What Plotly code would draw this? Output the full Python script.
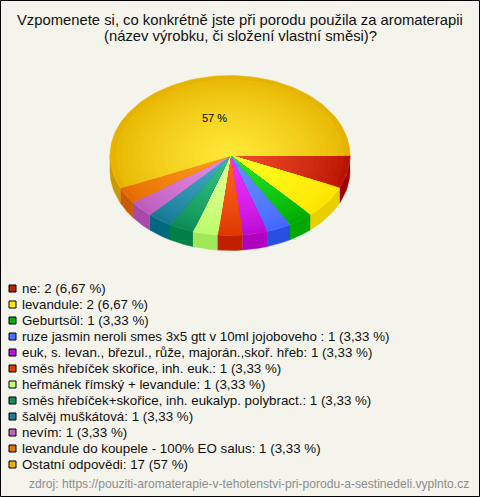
import math
import plotly.graph_objects as go

title_lines = ["Vzpomenete si, co konkrétně jste při porodu použila za aromaterapii",
               "(název výrobku, či složení vlastní směsi)?"]
labels = ["ne", "levandule", "Geburtsöl", "ruze jasmin neroli smes 3x5 gtt v 10ml jojoboveho ",
          "euk, s. levan., březul., růže, majorán.,skoř. hřeb", "směs hřebíček skořice, inh. euk.",
          "heřmánek římský + levandule", "směs hřebíček+skořice, inh. eukalyp. polybract.",
          "šalvěj muškátová", "nevím", "levandule do koupele - 100% EO salus", "Ostatní odpovědi"]
values = [2, 2, 1, 1, 1, 1, 1, 1, 1, 1, 1, 17]
percents = ["6,67", "6,67", "3,33", "3,33", "3,33", "3,33", "3,33", "3,33", "3,33", "3,33", "3,33", "57"]
source = "zdroj: https://pouziti-aromaterapie-v-tehotenstvi-pri-porodu-a-sestinedeli.vyplnto.cz"

swatch = ["#C02000", "#FFE800", "#00B000", "#4870FF", "#C010D8", "#E03C00",
          "#C0FF70", "#109058", "#1C7C98", "#C060C0", "#E87000", "#E8B000"]
inner = ["#F04C2C", "#FFFF24", "#24E424", "#6890FF", "#F034FF", "#FF6420",
         "#E4FF94", "#34C484", "#44ACC4", "#E48CE4", "#FF9C20", "#FFE838"]
outer = ["#B81400", "#FFE400", "#00AC00", "#4468FF", "#BC0CD4", "#DC3800",
         "#BCFC6C", "#0C8C54", "#187894", "#BC5CBC", "#E46C00", "#E6B400"]
wall = ["#A00000", "#E8D000", "#00A800", "#2850E0", "#B000C0", "#C02000",
        "#A0E858", "#008048", "#006880", "#A848A8", "#C85C00", "#C89C00"]

BG = "#F4F4EC"
CX, CY, RX, RY, DEPTH = 230, 155.5, 120, 80, 15
RINGS = 20


def mix(a, b, f):
    pa = [int(a[i:i + 2], 16) for i in (1, 3, 5)]
    pb = [int(b[i:i + 2], 16) for i in (1, 3, 5)]
    return "#%02X%02X%02X" % tuple(round(x + (y - x) * f) for x, y in zip(pa, pb))


def arc(a0, a1, k=1.0, dy=0.0):
    n = max(2, int(abs(a1 - a0) / 2) + 2)
    angs = [math.radians(a0 + (a1 - a0) * i / (n - 1)) for i in range(n)]
    return [CX + RX * k * math.cos(a) for a in angs], [CY + dy + RY * k * math.sin(a) for a in angs]


fig = go.Figure()
total = sum(values)
edges = [0.0]
for v in values:
    edges.append(edges[-1] + v / total * 360)


def poly(xs, ys, color):
    fig.add_trace(go.Scatter(x=xs, y=ys, mode="lines", fill="toself", fillcolor=color,
                             line=dict(color=color, width=0.5), hoverinfo="skip", showlegend=False))


# side walls (visible front half only)
for i in range(len(values)):
    a0, a1 = edges[i], min(edges[i + 1], 180)
    if a0 >= 180:
        continue
    x1, y1 = arc(a0, a1)
    x2, y2 = arc(a0, a1, dy=DEPTH)
    poly(x1 + x2[::-1], y1 + y2[::-1], wall[i])

# top faces drawn as concentric rings for the radial shading
for i in range(len(values)):
    a0, a1 = edges[i], edges[i + 1]
    for r in range(RINGS):
        f = r / (RINGS - 1)
        k = 1 - r / RINGS
        x, y = arc(a0, a1, k=k)
        poly([CX] + x + [CX], [CY] + y + [CY], mix(outer[i], inner[i], f ** 0.75))

# pie label
big = max(range(len(values)), key=lambda j: values[j])
mid = math.radians((edges[big] + edges[big + 1]) / 2)
annotations = [dict(x=CX + RX * 0.64 * math.cos(mid), y=CY + RY * 0.48 * math.sin(mid),
                    text=percents[big] + " %", showarrow=False, xanchor="center", yanchor="middle",
                    font=dict(family="Liberation Sans", size=11, color="#000000"))]

# title
for j, t in enumerate(title_lines):
    annotations.append(dict(x=240, y=20 + j * 15.5, text=t, showarrow=False, xanchor="center",
                            yanchor="middle", font=dict(family="Liberation Sans", size=14.8, color="#111111")))

# legend
LEG_Y, LEG_STEP = 288.5, 16
for i, (lab, v, p) in enumerate(zip(labels, values, percents)):
    y = LEG_Y + i * LEG_STEP
    fig.add_trace(go.Scatter(x=[12.5], y=[y], mode="markers", hoverinfo="skip", showlegend=False,
                             marker=dict(symbol="square", size=7, color=swatch[i],
                                         line=dict(color="#000000", width=1))))
    annotations.append(dict(x=19.5, y=y, text=f"{lab}: {v} ({p} %)", showarrow=False, xanchor="left",
                            yanchor="middle", font=dict(family="Liberation Sans", size=13.33, color="#111111")))

annotations.append(dict(x=470.5, y=484, text=source, showarrow=False, xanchor="right", yanchor="middle",
                        font=dict(family="Liberation Sans", size=12.1, color="#8C8C8C")))

fig.update_layout(
    width=480, height=497, margin=dict(l=0, r=0, t=0, b=0), autosize=False,
    paper_bgcolor=BG, plot_bgcolor=BG, showlegend=False,
    xaxis=dict(range=[0, 480], visible=False, fixedrange=True),
    yaxis=dict(range=[497, 0], visible=False, fixedrange=True),
    annotations=annotations,
    shapes=[dict(type="rect", x0=0.5, y0=0.5, x1=479.5, y1=496.5, line=dict(color="#000000", width=1),
                 fillcolor="rgba(0,0,0,0)")],
)
fig.write_html("out.html", config=dict(displayModeBar=False),
               post_script="document.body.style.margin='0';document.body.style.background='#F4F4EC';document.documentElement.style.overflow='hidden';")
